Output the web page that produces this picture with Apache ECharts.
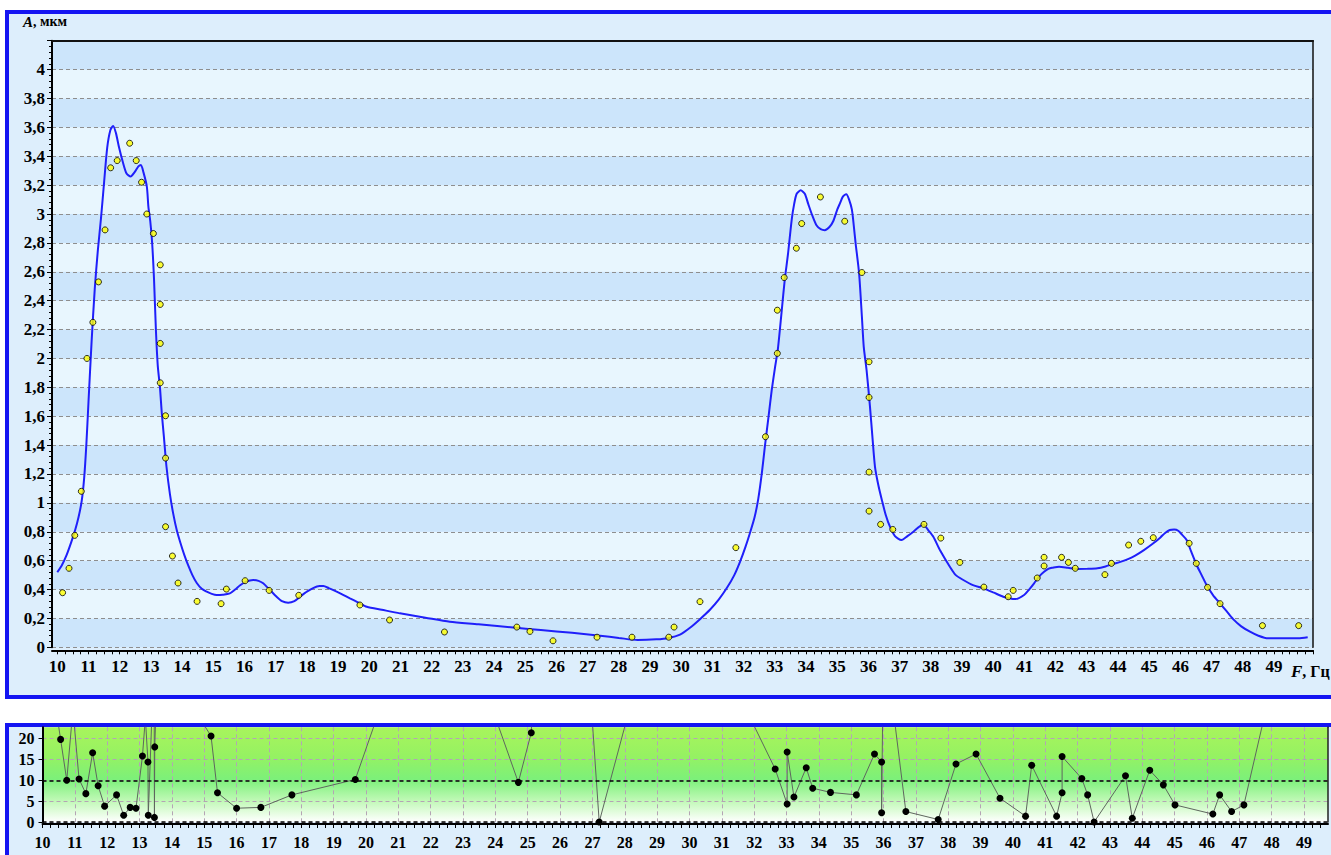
<!DOCTYPE html>
<html>
<head>
<meta charset="utf-8">
<script src="https://cdn.jsdelivr.net/npm/echarts@6/dist/echarts.min.js"></script>
<style>
html,body{margin:0;padding:0;background:#fff;}
#wrap{position:relative;width:1331px;height:855px;overflow:hidden;background:#fff;}
.panel{position:absolute;box-sizing:border-box;border:4px solid #1414f2;background:#ddeefc;}
#p1{left:5px;top:10px;width:1400px;height:689px;}
#p2{left:5px;top:723px;width:1400px;height:220px;}
#chart{position:absolute;left:0;top:0;width:1331px;height:855px;}
</style>
</head>
<body>
<div id="wrap"><div class="panel" id="p1"></div><div class="panel" id="p2"></div><div id="chart"></div></div>
<script>
// ---- main chart: fitted curve (F, Hz -> A, um) ----
const curveF = [10.00,10.15,10.30,10.45,10.57,10.68,10.78,10.86,10.93,11.00,11.10,11.20,11.30,11.40,11.50,11.60,11.70,11.79,11.88,11.98,12.10,12.22,12.35,12.48,12.60,12.68,12.76,12.87,12.92,12.98,13.04,13.10,13.16,13.22,13.29,13.35,13.42,13.50,13.61,13.72,13.83,13.95,14.07,14.20,14.33,14.47,14.63,14.79,14.95,15.11,15.30,15.53,15.70,15.86,16.05,16.28,16.45,16.60,16.80,17.03,17.20,17.40,17.60,17.78,18.00,18.20,18.40,18.53,18.70,18.85,19.10,19.38,19.65,19.92,20.40,20.98,21.80,22.58,23.50,24.70,25.50,26.50,27.40,28.00,28.60,29.20,29.60,29.96,30.28,30.60,30.92,31.20,31.46,31.70,31.88,32.05,32.20,32.35,32.47,32.58,32.68,32.80,32.90,33.00,33.10,33.22,33.32,33.42,33.54,33.62,33.70,33.83,33.96,34.07,34.20,34.34,34.47,34.60,34.75,34.87,35.00,35.08,35.18,35.29,35.38,35.47,35.53,35.59,35.70,35.79,35.85,35.94,36.05,36.13,36.21,36.32,36.43,36.55,36.69,36.85,37.06,37.25,37.44,37.60,37.76,37.92,38.08,38.30,38.61,38.80,39.04,39.35,39.68,40.00,40.32,40.50,40.72,40.99,41.15,41.31,41.47,41.63,41.78,41.90,42.11,42.40,42.70,43.00,43.34,43.60,43.82,44.05,44.30,44.55,44.83,45.10,45.36,45.50,45.66,45.80,45.93,46.05,46.20,46.35,46.52,46.68,46.84,47.05,47.27,47.48,47.69,47.95,48.23,48.50,48.81,49.30,49.78,50.08];
const curveA = [0.52,0.57,0.64,0.73,0.81,0.90,1.01,1.17,1.40,1.70,2.12,2.48,2.75,2.97,3.22,3.46,3.58,3.61,3.56,3.46,3.36,3.28,3.26,3.29,3.33,3.34,3.29,3.19,3.05,2.95,2.80,2.55,2.20,1.95,1.80,1.62,1.45,1.25,1.06,0.92,0.81,0.72,0.64,0.565,0.50,0.445,0.405,0.385,0.37,0.362,0.364,0.373,0.40,0.43,0.455,0.466,0.46,0.443,0.40,0.35,0.32,0.309,0.32,0.35,0.385,0.41,0.424,0.424,0.41,0.396,0.37,0.339,0.31,0.281,0.26,0.235,0.205,0.177,0.16,0.135,0.12,0.10,0.08,0.065,0.05,0.055,0.065,0.088,0.135,0.195,0.26,0.33,0.41,0.50,0.59,0.69,0.79,0.90,1.03,1.20,1.39,1.60,1.78,1.93,2.07,2.33,2.55,2.72,2.96,3.07,3.14,3.164,3.14,3.07,2.99,2.92,2.895,2.888,2.91,2.95,3.03,3.07,3.12,3.137,3.10,3.03,2.92,2.795,2.59,2.29,2.08,1.92,1.665,1.45,1.25,1.12,1.02,0.92,0.835,0.77,0.743,0.77,0.80,0.83,0.851,0.81,0.765,0.67,0.558,0.50,0.466,0.43,0.408,0.38,0.35,0.34,0.334,0.362,0.40,0.443,0.49,0.523,0.545,0.551,0.558,0.55,0.542,0.543,0.547,0.56,0.576,0.59,0.609,0.635,0.673,0.715,0.761,0.79,0.812,0.815,0.807,0.78,0.743,0.66,0.57,0.50,0.431,0.36,0.304,0.25,0.195,0.145,0.108,0.08,0.062,0.062,0.062,0.069];

// ---- main chart: measured points ----
const dotF = [10.17,10.375,10.56,10.77,10.95,11.14,11.32,11.53,11.71,11.92,12.32,12.53,12.70,12.87,13.08,13.30,13.30,13.30,13.30,13.47,13.47,13.47,13.69,13.87,14.48,15.25,15.42,16.02,16.79,17.74,19.70,20.65,22.41,24.73,25.15,25.89,27.30,28.42,29.60,29.77,30.60,31.75,32.70,33.08,33.08,33.30,33.69,33.86,34.46,35.24,35.79,36.02,36.02,36.02,36.02,36.39,36.78,37.78,38.32,38.93,39.70,40.48,40.64,41.41,41.63,41.63,42.19,42.41,42.63,43.58,43.79,44.34,44.73,45.13,46.28,46.51,46.87,47.27,48.63,49.79];
const dotA = [0.378,0.547,0.775,1.08,2.0,2.25,2.53,2.89,3.32,3.37,3.49,3.37,3.22,3.00,2.865,2.648,2.374,2.104,1.831,1.603,1.31,0.835,0.632,0.445,0.318,0.302,0.403,0.461,0.394,0.36,0.293,0.189,0.106,0.14,0.11,0.045,0.07,0.07,0.07,0.14,0.316,0.69,1.458,2.035,2.334,2.56,2.763,2.934,3.118,2.95,2.595,1.977,1.73,1.213,0.943,0.851,0.816,0.851,0.756,0.588,0.417,0.35,0.394,0.48,0.563,0.623,0.623,0.588,0.547,0.503,0.581,0.708,0.734,0.759,0.72,0.581,0.415,0.302,0.15,0.15];

// ---- lower chart: deviation, % ----
const devF = [10.17,10.36,10.56,10.75,10.94,11.13,11.34,11.55,11.72,11.92,12.29,12.51,12.71,12.89,13.09,13.18,13.26,13.27,13.45,13.46,13.47,13.65,13.85,14.45,15.21,15.41,16.00,16.75,17.71,19.67,20.65,22.41,24.71,25.11,25.89,27.21,28.42,29.60,29.77,30.60,31.75,32.65,33.02,33.02,33.23,33.61,33.81,34.36,35.16,35.72,35.94,35.94,36.00,36.25,36.69,37.69,38.24,38.86,39.60,40.39,40.58,41.35,41.52,41.52,42.13,42.31,42.51,43.48,43.69,44.23,44.65,45.01,46.18,46.39,46.76,47.14,48.60,49.70];
const devP = [46,30,19.8,10.0,27,10.3,6.8,16.6,8.7,3.8,6.5,1.6,3.5,3.3,15.8,25,14.4,1.6,40,1.1,18.0,60,75,30,20.6,7.0,3.3,3.5,6.5,10.2,32,60,9.5,21.4,150,0.0,35,50,60,55,27,12.7,4.3,16.8,6.0,13.0,8.1,7.1,6.5,16.3,14.4,2.2,45,30,2.5,0.6,13.9,16.3,5.7,1.4,13.6,1.4,7.0,15.7,10.4,6.5,0,11.1,0.9,12.4,8.9,4.1,1.9,6.5,2.5,4.1,53,58];

// ---- tick labels ----
const freqLabels = [10,11,12,13,14,15,16,17,18,19,20,21,22,23,24,25,26,27,28,29,30,31,32,33,34,35,36,37,38,39,40,41,42,43,44,45,46,47,48,49];
const devLabels = [0,5,10,15,20];
const devRefLines = [0,10];

const quarterTicks = [];
for (let v = 10; v <= 50.25 + 1e-9; v += 0.25) quarterTicks.push(+v.toFixed(2));
const gridFreq = freqLabels.slice(1);

const zip = (a, b) => a.map((x, i) => [x, b[i]]);
const FONT = '"Liberation Serif", "Times New Roman", serif';
const comma = v => String(parseFloat((+v).toFixed(1))).replace('.', ',');

const chart = echarts.init(document.getElementById('chart'), null, {renderer: 'svg'});
chart.setOption({
  animation: false,
  backgroundColor: 'transparent',
  grid: [
    {left: 52, top: 40.7, width: 1261, height: 606.6, show: false},
    {left: 42.5, top: 727.3, width: 1285.5, height: 94.7, show: true, borderWidth: 0,
     backgroundColor: new echarts.graphic.LinearGradient(0, 0, 0, 1, [
       {offset: 0, color: '#a8f45c'},
       {offset: 0.3, color: '#96f262'},
       {offset: 0.55, color: '#7cf07a'},
       {offset: 0.78, color: '#c2f9b8'},
       {offset: 1, color: '#ffffff'}
     ])}
  ],
  xAxis: [
    {type: 'value', gridIndex: 0, min: 9.83, max: 50.25, position: 'bottom', offset: 3,
     axisLine: {show: true, onZero: false, lineStyle: {color: '#000', width: 2}},
     axisTick: {show: true, customValues: quarterTicks, length: 4, lineStyle: {color: '#000'}},
     axisLabel: {show: true, customValues: freqLabels, margin: 8, color: '#000', fontFamily: FONT, fontWeight: 'bold', fontSize: 17},
     splitLine: {show: false}},
    {type: 'value', gridIndex: 0, min: 9.83, max: 50.25, position: 'top',
     axisLine: {show: true, onZero: false, lineStyle: {color: '#111', width: 2}},
     axisTick: {show: false}, axisLabel: {show: false}, splitLine: {show: false}},
    {type: 'value', gridIndex: 1, min: 10, max: 49.74, position: 'bottom', offset: 2,
     axisLine: {show: true, onZero: false, lineStyle: {color: '#000', width: 2}},
     axisTick: {show: true, customValues: quarterTicks, length: 4, lineStyle: {color: '#000'}},
     axisLabel: {show: true, customValues: freqLabels, margin: 10, color: '#000', fontFamily: FONT, fontWeight: 'bold', fontSize: 16},
     splitLine: {show: false}},
    {type: 'value', gridIndex: 1, min: 10, max: 49.74, position: 'top',
     axisLine: {show: false}, axisTick: {show: false, customValues: gridFreq}, axisLabel: {show: false},
     splitLine: {show: true, lineStyle: {color: '#b4a4b4', width: 1, type: [4, 3]}}}
  ],
  yAxis: [
    {type: 'value', gridIndex: 0, min: 0, max: 4.2, interval: 0.2, position: 'left',
     axisLine: {show: true, onZero: false, lineStyle: {color: '#000', width: 2}},
     axisTick: {show: true, length: 5, lineStyle: {color: '#000'}},
     minorTick: {show: true, splitNumber: 5, length: 3, lineStyle: {color: '#000'}},
     axisLabel: {margin: 7, color: '#000', fontFamily: FONT, fontWeight: 'bold', fontSize: 17,
       formatter: v => (v > 4.1 ? '' : comma(v))},
     splitLine: {show: true, lineStyle: {color: '#8e8e8e', width: 1, type: [4, 3]}},
     splitArea: {show: true, areaStyle: {color: ['#cce5fb', '#e8f6fe']}}},
    {type: 'value', gridIndex: 0, min: 0, max: 4.2, position: 'right',
     axisLine: {show: true, onZero: false, lineStyle: {color: '#111', width: 1.5}},
     axisTick: {show: false}, axisLabel: {show: false}, splitLine: {show: false}},
    {type: 'value', gridIndex: 1, min: 0, max: 22.7, position: 'left',
     axisLine: {show: true, onZero: false, lineStyle: {color: '#000', width: 2}},
     axisTick: {show: true, customValues: devLabels, length: 4, lineStyle: {color: '#000'}},
     axisLabel: {customValues: devLabels, margin: 8, color: '#000', fontFamily: FONT, fontWeight: 'bold', fontSize: 16},
     splitLine: {show: true, lineStyle: {color: '#b4a4b4', width: 1, type: [4, 3]}}},
    {type: 'value', gridIndex: 1, min: 0, max: 22.7, position: 'right',
     axisLine: {show: true, onZero: false, lineStyle: {color: '#222', width: 1.5}},
     axisTick: {show: false}, axisLabel: {show: false}, splitLine: {show: false}}
  ],
  graphic: [
    {type: 'text', left: 23, top: 14, silent: true,
     style: {text: '{i|A}{n|, мкм}', rich: {
       i: {fontFamily: FONT, fontStyle: 'italic', fontWeight: 'bold', fontSize: 15, fill: '#000'},
       n: {fontFamily: FONT, fontWeight: 'bold', fontSize: 14, fill: '#000'}}}},
    {type: 'text', left: 1291, top: 663, silent: true,
     style: {text: '{i|F}{n|, Гц}', rich: {
       i: {fontFamily: FONT, fontStyle: 'italic', fontWeight: 'bold', fontSize: 17, fill: '#000'},
       n: {fontFamily: FONT, fontWeight: 'bold', fontSize: 16, fill: '#000'}}}}
  ],
  series: [
    {type: 'line', xAxisIndex: 0, yAxisIndex: 0, data: zip(curveF, curveA), showSymbol: false,
     smooth: 0.25, lineStyle: {color: '#1f1ffa', width: 2}, z: 3},
    {type: 'scatter', xAxisIndex: 0, yAxisIndex: 0, data: zip(dotF, dotA), symbol: 'circle', symbolSize: 6,
     itemStyle: {color: '#ffff00', borderColor: '#000', borderWidth: 1}, z: 4},
    {type: 'line', xAxisIndex: 2, yAxisIndex: 2, data: zip(devF, devP), clip: true,
     symbol: 'circle', symbolSize: 7, showAllSymbol: true,
     itemStyle: {color: '#000'}, lineStyle: {color: '#5e665e', width: 1}, z: 3,
     markLine: {silent: true, symbol: ['none', 'none'], label: {show: false},
       lineStyle: {color: '#000', width: 1.5, type: [4, 3]},
       data: devRefLines.map(v => ({yAxis: v}))}}
  ]
});
</script>
</body>
</html>
